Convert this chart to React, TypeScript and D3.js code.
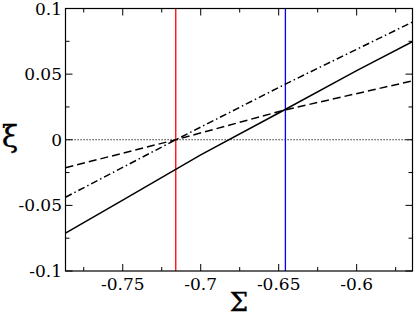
import React from "react";
import * as d3 from "d3";

const xMajor = [-0.75, -0.7, -0.65, -0.6];
const xMajorLabels = ["-0.75", "-0.7", "-0.65", "-0.6"];
const xMinor = [-0.775, -0.725, -0.675, -0.625, -0.575];
const yMajor = [-0.1, -0.05, 0, 0.05, 0.1];
const yMajorLabels = ["-0.1", "-0.05", "0", "0.05", "0.1"];
const yMinor = [-0.075, -0.025, 0.025, 0.075];

const solidX = [-0.7867, -0.75, -0.7, -0.65, -0.6, -0.564];
const solidY = [-0.0712, -0.046, -0.0115, 0.0204, 0.0527, 0.0749];
const dashedX = [-0.7867, -0.716, -0.6457, -0.564];
const dashedY = [-0.0213, 0.0, 0.0228, 0.0449];
const dashDotX = [-0.7867, -0.716, -0.6457, -0.564];
const dashDotY = [-0.0438, 0.0, 0.0424, 0.0898];
const redX = -0.716;
const blueX = -0.6457;

const W = 415, H = 316;
const L = 65.5, R = 412.5, T = 8.5, B = 271;
const font = "'DejaVu Serif'";

export default function App() {
  const x = d3.scaleLinear().domain([-0.7867, -0.5642]).range([L, R]);
  const y = d3.scaleLinear().domain([-0.1, 0.1]).range([B, T]);
  const line = d3.line<[number, number]>().x(d => x(d[0])).y(d => y(d[1]));
  const zip = (a: number[], b: number[]) => a.map((v, i) => [v, b[i]] as [number, number]);
  const maj = 7, mn = 4;
  return (
    <svg width={W} height={H} style={{ position: "absolute", left: 0, top: 0, background: "#fff" }}>
      <defs>
        <clipPath id="plot"><rect x={L} y={T} width={R - L} height={B - T} /></clipPath>
      </defs>
      <rect x={0} y={0} width={W} height={H} fill="#fff" />
      <g clipPath="url(#plot)" fill="none">
        <line x1={L} x2={R} y1={y(0)} y2={y(0)} stroke="#000" strokeWidth={1.2} strokeDasharray="1.2,1.8" />
        <line x1={x(redX)} x2={x(redX)} y1={T} y2={B} stroke="#ff0000" strokeWidth={1.3} />
        <line x1={x(blueX)} x2={x(blueX)} y1={T} y2={B} stroke="#0000ff" strokeWidth={1.3} />
        <path d={line(zip(solidX, solidY)) || ""} stroke="#000" strokeWidth={1.5} />
        <path d={line(zip(dashedX, dashedY)) || ""} stroke="#000" strokeWidth={1.5} strokeDasharray="8,4" />
        <path d={line(zip(dashDotX, dashDotY)) || ""} stroke="#000" strokeWidth={1.5} strokeDasharray="7,3,1.5,3" />
      </g>
      <g stroke="#000" strokeWidth={1}>
        {xMajor.map(v => (
          <g key={"xm" + v}>
            <line x1={x(v)} x2={x(v)} y1={B} y2={B - maj} />
            <line x1={x(v)} x2={x(v)} y1={T} y2={T + maj} />
          </g>
        ))}
        {xMinor.map(v => (
          <g key={"xn" + v}>
            <line x1={x(v)} x2={x(v)} y1={B} y2={B - mn} />
            <line x1={x(v)} x2={x(v)} y1={T} y2={T + mn} />
          </g>
        ))}
        {yMajor.map(v => (
          <g key={"ym" + v}>
            <line x1={L} x2={L + maj} y1={y(v)} y2={y(v)} />
            <line x1={R} x2={R - maj} y1={y(v)} y2={y(v)} />
          </g>
        ))}
        {yMinor.map(v => (
          <g key={"yn" + v}>
            <line x1={L} x2={L + mn} y1={y(v)} y2={y(v)} />
            <line x1={R} x2={R - mn} y1={y(v)} y2={y(v)} />
          </g>
        ))}
      </g>
      <rect x={L} y={T} width={R - L} height={B - T} fill="none" stroke="#000" strokeWidth={1.2} />
      <g fontFamily={font} fontSize={17} fill="#000">
        {xMajor.map((v, i) => (
          <text key={"xl" + v} x={x(v)} y={290} textAnchor="middle">{xMajorLabels[i]}</text>
        ))}
        {yMajor.map((v, i) => (
          <text key={"yl" + v} x={62} y={y(v) + 6} textAnchor="end">{yMajorLabels[i]}</text>
        ))}
      </g>
      <text x={(L + R) / 2} y={311} textAnchor="middle" fontFamily={font} fontSize={26} fill="#000" stroke="#000" strokeWidth={0.4}>Σ</text>
      <text x={10} y={147} textAnchor="middle" fontFamily={font} fontSize={30} fill="#000" stroke="#000" strokeWidth={0.3}>ξ</text>
    </svg>
  );
}
